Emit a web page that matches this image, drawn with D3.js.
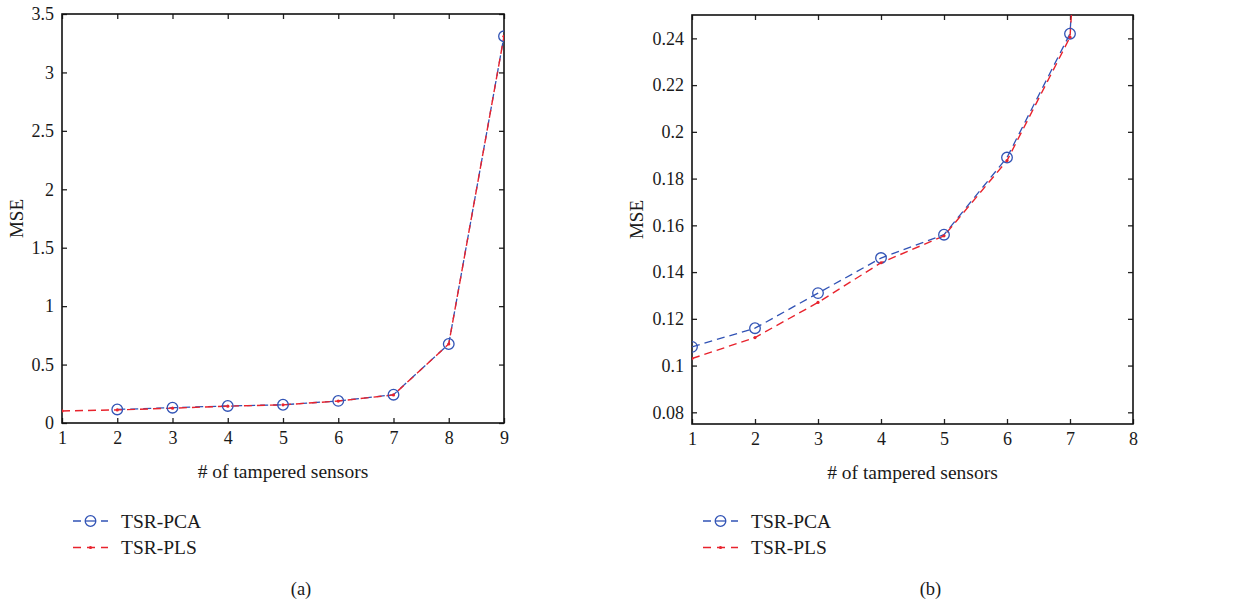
<!DOCTYPE html>
<html>
<head>
<meta charset="utf-8">
<script src="https://cdn.jsdelivr.net/npm/d3@7"></script>
<style>
body { margin: 0; background: #fff; }
text { font-family: "Liberation Serif", "DejaVu Serif", serif; fill: #1a1a1a; }
</style>
</head>
<body>
<div id="main"></div>
<script>
const width = 1234, height = 605;

// data
const sensors = [1, 2, 3, 4, 5, 6, 7, 8, 9];
const pcaMse = [null, 0.116, 0.131, 0.146, 0.156, 0.189, 0.242, 0.676, 3.309];
const pcaMseB = [0.108, 0.116, 0.131, 0.146, 0.156, 0.189, 0.242, 0.676, 3.309];
const plsMse = [0.103, 0.112, 0.127, 0.144, 0.1555, 0.1877, 0.2405, 0.676, 3.309];

const xTicksA = [1, 2, 3, 4, 5, 6, 7, 8, 9];
const yTicksA = [0, 0.5, 1, 1.5, 2, 2.5, 3, 3.5];
const xTicksB = [1, 2, 3, 4, 5, 6, 7, 8];
const yTicksB = [0.08, 0.1, 0.12, 0.14, 0.16, 0.18, 0.2, 0.22, 0.24];

const seriesNames = ["TSR-PCA", "TSR-PLS"];
const blue = "#3153b5", red = "#e8232d";

const svg = d3.select("#main").append("svg")
    .attr("width", width)
    .attr("height", height);

function panel(opt) {
    const g = svg.append("g");
    const x = d3.scaleLinear().domain(opt.xDomain).range([opt.left, opt.right]);
    const y = d3.scaleLinear().domain(opt.yDomain).range([opt.bottom, opt.top]);
    const tl = 5;

    const clipId = "clip" + opt.id;
    svg.append("clipPath").attr("id", clipId)
        .append("rect")
        .attr("x", opt.left).attr("y", opt.top)
        .attr("width", opt.right - opt.left).attr("height", opt.bottom - opt.top);

    const fmt = v => String(+v.toFixed(2));

    // axes: labels outside, ticks pointing in (matlab box)
    g.append("g").attr("transform", `translate(0,${opt.bottom})`)
        .call(d3.axisBottom(x).tickValues(opt.xTicks).tickFormat(fmt).tickSizeInner(-tl).tickSizeOuter(0).tickPadding(8))
        .call(a => a.select(".domain").remove());
    g.append("g").attr("transform", `translate(0,${opt.top})`)
        .call(d3.axisTop(x).tickValues(opt.xTicks).tickFormat("").tickSizeInner(-tl).tickSizeOuter(0))
        .call(a => a.select(".domain").remove());
    g.append("g").attr("transform", `translate(${opt.left},0)`)
        .call(d3.axisLeft(y).tickValues(opt.yTicks).tickFormat(fmt).tickSizeInner(-tl).tickSizeOuter(0).tickPadding(8))
        .call(a => a.select(".domain").remove());
    g.append("g").attr("transform", `translate(${opt.right},0)`)
        .call(d3.axisRight(y).tickValues(opt.yTicks).tickFormat("").tickSizeInner(-tl).tickSizeOuter(0))
        .call(a => a.select(".domain").remove());

    g.selectAll(".tick line").attr("stroke", "#222").attr("stroke-width", 1.3);
    g.selectAll(".tick text").attr("font-size", 18).attr("font-family", "Liberation Serif, serif").attr("fill", "#1a1a1a");

    g.append("rect")
        .attr("x", opt.left).attr("y", opt.top)
        .attr("width", opt.right - opt.left).attr("height", opt.bottom - opt.top)
        .attr("fill", "none").attr("stroke", "#111").attr("stroke-width", 1.6);

    const plot = g.append("g").attr("clip-path", `url(#${clipId})`);
    const line = d3.line()
        .defined(d => d[1] != null)
        .x(d => x(d[0]))
        .y(d => y(d[1]));

    const pca = sensors.map((s, i) => [s, opt.pca[i]]);
    const pls = sensors.map((s, i) => [s, opt.pls[i]]);

    plot.append("path").datum(pca)
        .attr("fill", "none").attr("stroke", blue).attr("stroke-width", 1.3)
        .attr("stroke-dasharray", "8,5").attr("d", line);
    plot.append("path").datum(pls)
        .attr("fill", "none").attr("stroke", red).attr("stroke-width", 1.4)
        .attr("stroke-dasharray", "8,5").attr("d", line);

    plot.selectAll(".pcaMark").data(pca.filter(d => d[1] != null)).join("circle")
        .attr("cx", d => x(d[0])).attr("cy", d => y(d[1])).attr("r", 5.3)
        .attr("fill", "none").attr("stroke", blue).attr("stroke-width", 1.3);
    plot.selectAll(".plsMark").data(pls).join("circle")
        .attr("cx", d => x(d[0])).attr("cy", d => y(d[1])).attr("r", 1.6)
        .attr("fill", red);

    // axis titles
    g.append("text")
        .attr("transform", `translate(${opt.left - opt.yTitleOff},${(opt.top + opt.bottom) / 2}) rotate(-90)`)
        .attr("text-anchor", "middle").attr("font-size", 19).text("MSE");
    g.append("text")
        .attr("x", (opt.left + opt.right) / 2).attr("y", opt.bottom + 55)
        .attr("text-anchor", "middle").attr("font-size", 19.5).text("# of tampered sensors");

    // legend
    const lx = opt.left + 11;
    const leg = g.append("g");
    [0, 1].forEach(i => {
        const ly = 521 + i * 26.5;
        const c = i === 0 ? blue : red;
        leg.append("line").attr("x1", lx).attr("x2", lx + 35).attr("y1", ly).attr("y2", ly)
            .attr("stroke", c).attr("stroke-width", 1.3).attr("stroke-dasharray", "8,6");
        if (i === 0) {
            leg.append("circle").attr("cx", lx + 17.5).attr("cy", ly).attr("r", 5.3)
                .attr("fill", "#fff").attr("stroke", c).attr("stroke-width", 1.3);
            leg.append("line").attr("x1", lx + 12).attr("x2", lx + 23).attr("y1", ly).attr("y2", ly)
                .attr("stroke", c).attr("stroke-width", 1.3);
        } else {
            leg.append("circle").attr("cx", lx + 17.5).attr("cy", ly).attr("r", 1.6).attr("fill", c);
        }
        leg.append("text").attr("x", lx + 48).attr("y", ly + 6.5).attr("font-size", 19.5).text(seriesNames[i]);
    });

    g.append("text")
        .attr("x", (opt.left + opt.right) / 2 + 18).attr("y", 595)
        .attr("text-anchor", "middle").attr("font-size", 18.5).text(opt.caption);
}

panel({
    id: "a", left: 62, right: 504, top: 14, bottom: 423,
    xDomain: [1, 9], yDomain: [0, 3.5],
    xTicks: xTicksA, yTicks: yTicksA, yTitleOff: 39,
    pca: pcaMse, pls: plsMse, caption: "(a)"
});

panel({
    id: "b", left: 692, right: 1133, top: 15, bottom: 424,
    xDomain: [1, 8], yDomain: [0.075, 0.25],
    xTicks: xTicksB, yTicks: yTicksB, yTitleOff: 49,
    pca: pcaMseB, pls: plsMse, caption: "(b)"
});
</script>
</body>
</html>
